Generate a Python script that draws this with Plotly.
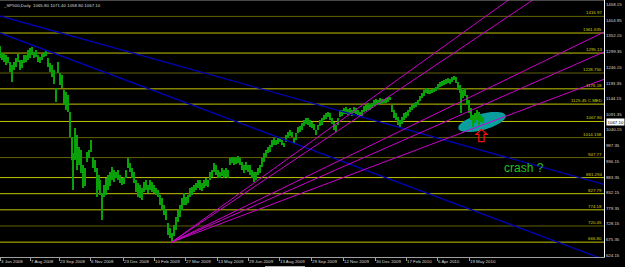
import numpy as np
import plotly.graph_objects as go

# ---------------- data ----------------
bar_idx = [0, 2, 4, 6, 8, 10, 12, 14, 16, 18,
           20, 22, 24, 26, 28, 30, 32, 34, 36, 38,
           40, 42, 44, 46, 48, 50, 52, 54, 56, 58,
           60, 62, 64, 66, 68, 70, 72, 73, 75, 77,
           79, 81, 83, 85, 87, 89, 91, 93, 95, 97,
           99, 100, 102, 104, 106, 108, 110, 112, 114, 116,
           118, 120, 122, 124, 126, 128, 130, 132, 134, 136,
           138, 140, 142, 144, 146, 148, 150, 152, 154, 156,
           158, 160, 162, 164, 166, 168, 170, 172, 174, 176,
           178, 180, 182, 184, 186, 188, 190, 192, 194, 196,
           198, 200, 202, 204, 206, 208, 210, 212, 214, 216,
           218, 220, 222, 224, 226, 228, 230, 232, 234, 236,
           238, 240, 242, 244, 246, 248, 250, 252, 254, 256,
           258, 260, 262, 264, 266, 268, 270, 272, 274, 276,
           278, 280, 282, 284, 286, 288, 290, 292, 294, 296,
           298, 300, 302, 304, 306, 308, 310, 312, 314, 316,
           318, 320, 322, 324, 326, 328, 330, 332, 334, 336,
           338, 340, 342, 344, 346, 348, 350, 352, 354, 356,
           358, 360, 362, 364, 366, 368, 370, 372, 374, 376,
           378, 380, 382, 384, 386, 388, 390, 392, 394, 396,
           398, 400, 402, 404, 406, 408, 410, 412, 414, 416,
           418, 420, 422, 424, 426, 428, 430, 432, 434, 436,
           438, 440, 442, 444, 446, 448, 450, 452, 454, 456,
           458, 460, 461, 463, 465, 467, 469, 471, 473, 475,
           477, 479, 481, 483]

bar_high = [1319, 1295, 1292, 1289, 1282, 1265, 1255, 1265, 1279, 1292,
            1272, 1272, 1289, 1289, 1305, 1312, 1315, 1299, 1305, 1289,
            1282, 1292, 1299, 1305, 1279, 1262, 1255, 1239, 1179, 1265,
            1229, 1222, 1172, 1166, 1156, 1099, 1016, 963, 1046, 1023,
            983, 973, 923, 913, 966, 973, 1006, 950, 940, 913,
            890, 873, 830, 857, 880, 890, 900, 917, 907, 900,
            907, 890, 880, 883, 907, 946, 930, 913, 900, 873,
            863, 857, 847, 867, 873, 857, 873, 867, 857, 847,
            840, 823, 814, 790, 774, 730, 714, 697, 724, 750,
            774, 790, 814, 830, 817, 823, 847, 850, 857, 863,
            873, 873, 863, 873, 880, 873, 900, 907, 930, 923,
            907, 900, 913, 907, 913, 907, 946, 950, 950, 946,
            953, 946, 933, 923, 933, 923, 923, 907, 900, 900,
            913, 923, 946, 963, 973, 983, 990, 1006, 1013, 1006,
            1013, 1016, 1006, 996, 1023, 1033, 1039, 1033, 1013, 1030,
            1049, 1053, 1063, 1073, 1079, 1079, 1073, 1066, 1059, 1039,
            1056, 1073, 1079, 1089, 1096, 1099, 1096, 1079, 1066, 1056,
            1079, 1106, 1106, 1113, 1116, 1109, 1113, 1106, 1116, 1113,
            1106, 1099, 1106, 1119, 1123, 1129, 1126, 1129, 1139, 1143,
            1139, 1146, 1143, 1143, 1146, 1149, 1149, 1123, 1106, 1096,
            1083, 1073, 1083, 1096, 1099, 1106, 1116, 1123, 1129, 1133,
            1139, 1152, 1162, 1172, 1179, 1176, 1172, 1176, 1179, 1182,
            1192, 1199, 1202, 1206, 1209, 1212, 1209, 1216, 1219, 1216,
            1199, 1189, 1179, 1172, 1179, 1156, 1139, 1113, 1089, 1096,
            1106, 1099, 1089, 1083]

bar_low = [1279, 1272, 1265, 1255, 1262, 1232, 1199, 1239, 1249, 1265,
           1239, 1245, 1262, 1265, 1272, 1279, 1289, 1279, 1282, 1265,
           1262, 1272, 1282, 1285, 1249, 1232, 1216, 1192, 1133, 1229,
           1189, 1179, 1123, 1106, 1099, 1016, 940, 840, 940, 907,
           923, 897, 847, 853, 933, 946, 966, 913, 900, 817,
           840, 823, 740, 817, 823, 840, 853, 873, 867, 880,
           873, 863, 857, 860, 880, 913, 900, 880, 863, 833,
           817, 814, 807, 833, 840, 830, 840, 833, 830, 823,
           817, 790, 774, 757, 740, 691, 681, 667, 687, 707,
           734, 750, 774, 790, 790, 797, 817, 823, 833, 840,
           847, 840, 837, 847, 853, 850, 873, 883, 900, 890,
           880, 880, 887, 880, 883, 880, 923, 930, 923, 927,
           930, 923, 907, 897, 907, 900, 890, 880, 867, 873,
           890, 897, 917, 933, 950, 963, 966, 983, 990, 990,
           993, 1000, 990, 983, 1000, 1013, 1020, 1016, 996, 1006,
           1030, 1033, 1039, 1053, 1059, 1056, 1049, 1046, 1039, 1023,
           1039, 1053, 1056, 1073, 1076, 1083, 1073, 1059, 1039, 1033,
           1056, 1083, 1086, 1093, 1093, 1089, 1096, 1086, 1096, 1093,
           1089, 1083, 1086, 1099, 1103, 1106, 1106, 1113, 1119, 1126,
           1123, 1126, 1126, 1129, 1129, 1133, 1139, 1099, 1079, 1073,
           1056, 1049, 1059, 1073, 1079, 1086, 1099, 1106, 1113, 1116,
           1123, 1136, 1146, 1152, 1162, 1159, 1159, 1162, 1166, 1169,
           1176, 1182, 1186, 1189, 1192, 1196, 1192, 1199, 1206, 1196,
           1172, 1162, 1096, 1146, 1152, 1123, 1096, 1073, 1049, 1063,
           1073, 1056, 1066, 1063]

last_ohlc = [1065.80, 1071.40, 1058.80, 1067.10]

level_values = [1416.97, 1361.635, 1295.13, 1228.75, 1176.18, 1125.45, 1067.80,
                1014.15, 947.77, 881.29, 827.79, 774.18, 720.45, 666.80]
level_labels = ["1416.97", "1361.635", "1295.13", "1228.750", "1176.18", "1125.45 C.MED",
                "1067.80", "1014.158", "947.77", "881.294", "827.79", "774.18", "720.45", "666.80"]
level_dark = [True, False, False, True, False, False, False,
              True, True, False, False, False, True, False]

price_ticks = [1458.15, 1404.95, 1352.15, 1299.35, 1246.15, 1193.35, 1144.15, 1091.35,
               1040.15, 987.35, 936.15, 883.35, 832.15, 779.35, 728.15, 675.35, 624.15]

date_tick_idx = [0, 30, 59, 90, 123, 154, 185, 217, 248, 279, 311, 343, 375, 406, 437, 469]
date_tick_text = ["3 Jun 2008", "7 Aug 2008", "23 Sep 2008", "6 Nov 2008", "23 Dec 2008",
                  "10 Feb 2009", "27 Mar 2009", "13 May 2009", "29 Jun 2009", "13 Aug 2009",
                  "29 Sep 2009", "12 Nov 2009", "30 Dec 2009", "17 Feb 2010", "6 Apr 2010",
                  "19 May 2010"]

fan_origin_idx = 172
fan_origin_price = 667.3
fan_end_idx = 604
fan_end_prices = [1700, 1630, 1365, 1299, 1208]

channel_idx = [0, 604]
channel_upper = [1418.3, 858.4]
channel_lower = [1361.8, 609.1]

note_idx, note_price = 482, 1066      # ellipse centre
arrow_idx, arrow_price = 481.5, 1000.6
crash_idx, crash_price = 524, 913

X_RANGE = [0, 604]
Y_RANGE = [617.4, 1471.4]

# ---------------- styles ----------------
BG = "#000000"
GREEN = "#0aa00a"
YEL = "#c4c400"
YEL_DARK = "#626200"
MAG = "#cc00cc"
BLUE = "#0000b4"
TXT = "#d8d8d8"
FONT = "Liberation Sans, Arial, sans-serif"
FS = 4.4

fig = go.Figure()

shapes = []
for v, dark in zip(level_values, level_dark):
    shapes.append(dict(type="line", xref="paper", x0=0, x1=1, yref="y", y0=v, y1=v,
                       line=dict(color=YEL_DARK if dark else YEL, width=1), layer="below"))

t = np.linspace(0, 2 * np.pi, 60)
a_px, b_px, ang = 24.5, 8.0, np.deg2rad(15.5)
ex = a_px * np.cos(t) * np.cos(ang) - b_px * np.sin(t) * np.sin(ang)
ey = a_px * np.cos(t) * np.sin(ang) + b_px * np.sin(t) * np.cos(ang)
epath = "M " + " L ".join(f"{px:.2f},{py:.2f}" for px, py in zip(ex, ey)) + " Z"
shapes.append(dict(type="path", xref="x", yref="y", xsizemode="pixel", ysizemode="pixel",
                   xanchor=note_idx, yanchor=note_price, path=epath,
                   fillcolor="#0a9e9e", line=dict(width=0), layer="below"))

apath = "M 0,12.4 L -5.5,7.4 L -2.6,7.4 L -2.6,0 L 2.6,0 L 2.6,7.4 L 5.5,7.4 Z"
shapes.append(dict(type="path", xref="x", yref="y", xsizemode="pixel", ysizemode="pixel",
                   xanchor=arrow_idx, yanchor=arrow_price, path=apath,
                   fillcolor="rgba(0,0,0,0)", line=dict(color="#ff1010", width=1.2), layer="above"))

shapes.append(dict(type="line", xref="paper", x0=0, x1=1, yref="paper", y0=1, y1=1,
                   line=dict(color="#909090", width=1), layer="above"))
shapes.append(dict(type="rect", xref="paper", x0=265 / 604, x1=305 / 604, yref="paper",
                   y0=-0.036, y1=-0.044, fillcolor="#e8e8e8", line=dict(width=0)))

fig.add_trace(go.Bar(x=bar_idx, base=bar_low,
                     y=[h - l for h, l in zip(bar_high, bar_low)],
                     width=1.6, marker=dict(color=GREEN, line=dict(width=0)),
                     hoverinfo="skip"))

for ch in (channel_upper, channel_lower):
    fig.add_trace(go.Scatter(x=channel_idx, y=ch, mode="lines",
                             line=dict(color=BLUE, width=1.3), hoverinfo="skip"))

for p in fan_end_prices:
    fig.add_trace(go.Scatter(x=[fan_origin_idx, fan_end_idx], y=[fan_origin_price, p],
                             mode="lines", line=dict(color=MAG, width=1), hoverinfo="skip"))

annotations = []
for v, lab, dark in zip(level_values, level_labels, level_dark):
    annotations.append(dict(x=1, xref="paper", xanchor="right", xshift=-1, y=v, yref="y",
                            yanchor="bottom", text=lab, showarrow=False, borderpad=0,
                            font=dict(family=FONT, size=FS, color="#d0d000")))

annotations.append(dict(x=0, xref="paper", xanchor="left", xshift=2, y=1, yref="paper",
                        yanchor="top", yshift=-2,
                        text="_SP500,Daily  " + " ".join(f"{v:.2f}" for v in last_ohlc),
                        showarrow=False, borderpad=0,
                        font=dict(family=FONT, size=FS, color=TXT)))

annotations.append(dict(x=1, xref="paper", xanchor="left", xshift=2, y=last_ohlc[3], yref="y",
                        yanchor="middle", text=f"{last_ohlc[3]:.2f}", showarrow=False,
                        bgcolor="#ffffff", borderpad=0.5,
                        font=dict(family=FONT, size=FS, color="#000000")))

annotations.append(dict(x=crash_idx, y=crash_price, xref="x", yref="y", text="crash ?",
                        showarrow=False, font=dict(family=FONT, size=12, color="#22c022")))

fig.update_layout(
    width=625, height=267,
    margin=dict(l=0, r=21, t=0, b=10),
    paper_bgcolor=BG, plot_bgcolor=BG,
    showlegend=False, bargap=0,
    shapes=shapes, annotations=annotations,
    xaxis=dict(range=X_RANGE, showgrid=False, zeroline=False, automargin=False,
               tickvals=date_tick_idx, ticktext=date_tick_text, tickangle=0,
               ticklabelposition="outside right",
               ticks="outside", ticklen=3, tickcolor="#a0a0a0",
               tickfont=dict(family=FONT, size=FS, color=TXT),
               showline=True, linecolor="#a0a0a0", linewidth=1),
    yaxis=dict(range=Y_RANGE, side="right", showgrid=False, zeroline=False, automargin=False,
               tickvals=price_ticks, ticktext=[f"{v:.2f}" for v in price_ticks],
               ticks="", tickfont=dict(family=FONT, size=FS, color=TXT),
               showline=True, linecolor="#ffffff", linewidth=1),
)

fig.write_html("out.html")
